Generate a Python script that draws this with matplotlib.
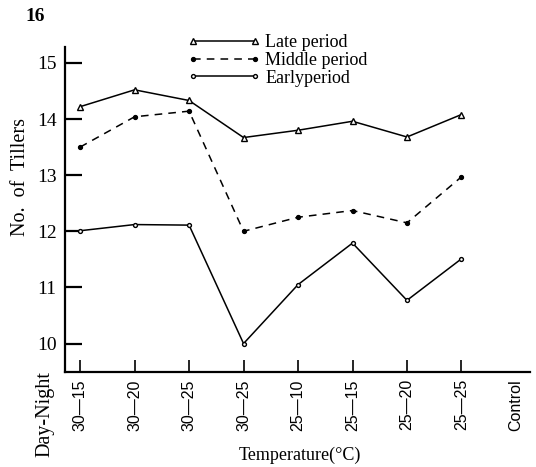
import matplotlib
matplotlib.use("Agg")
import matplotlib.pyplot as plt

# Datos
categories = ['30—15', '30—20', '30—25', '30—25', '25—10', '25—15', '25—20', '25—25', 'Control']
late = [14.22, 14.52, 14.33, 13.67, 13.80, 13.96, 13.68, 14.08]
middle = [13.50, 14.04, 14.14, 12.00, 12.25, 12.37, 12.15, 12.97]
early = [12.01, 12.12, 12.11, 10.00, 11.05, 11.79, 10.77, 11.51]

serif = 'Liberation Serif'

fig = plt.figure(figsize=(5.36, 4.67), dpi=100)
ax = fig.add_axes([0.121, 0.203, 0.868, 0.696])

x = list(range(len(late)))
l1, = ax.plot(x, late, '-', color='black', lw=1.1, marker='^', ms=5, mfc='white', mec='black')
l2, = ax.plot(x, middle, '--', color='black', lw=1.1, dashes=(5, 4), marker='o', ms=2.8, mfc='black')
l3, = ax.plot(x, early, '-', color='black', lw=1.1, marker='o', ms=2.8, mfc='white', mec='black')

ax.set_xlim(-0.28, 8.26)
ax.set_ylim(9.49, 15.28)

ax.set_xticks(range(len(categories)))
ax.set_xticklabels(categories, rotation=90, fontfamily='Liberation Sans', fontsize=11.5)
ax.set_yticks([10, 11, 12, 13, 14, 15])
ax.set_yticklabels(['10', '11', '12', '13', '14', '15'], fontfamily=serif, fontsize=14)

ax.tick_params(axis='y', direction='in', length=12, width=1.6, pad=6)
ax.tick_params(axis='x', direction='in', length=9, width=1.2, pad=5)
ax.xaxis.get_major_ticks()[-1].tick1line.set_visible(False)

for s in ['top', 'right']:
    ax.spines[s].set_visible(False)
ax.spines['left'].set_linewidth(1.6)
ax.spines['bottom'].set_linewidth(1.6)

fig.text(0.066, 0.965, '16', fontfamily=serif, fontsize=14, fontweight='bold', ha='center', va='center')
fig.text(0.038, 0.621, 'No.  of  Tillers', fontfamily=serif, fontsize=14.5, rotation=90, ha='center', va='center')
fig.text(0.084, 0.022, 'Day-Night', fontfamily=serif, fontsize=14.5, rotation=90, ha='center', va='bottom')
fig.text(0.56, 0.025, 'Temperature(°C)', fontfamily=serif, fontsize=13, ha='center', va='center')

ax.legend([l1, l2, l3], ['Late period', 'Middle period', 'Earlyperiod'],
          loc='upper left', bbox_to_anchor=(0.32, 0.962), bbox_transform=fig.transFigure,
          frameon=False, numpoints=2, handlelength=4.0, handletextpad=0.3,
          labelspacing=0.05, prop={'family': serif, 'size': 13})

fig.savefig('out.png', dpi=100)
